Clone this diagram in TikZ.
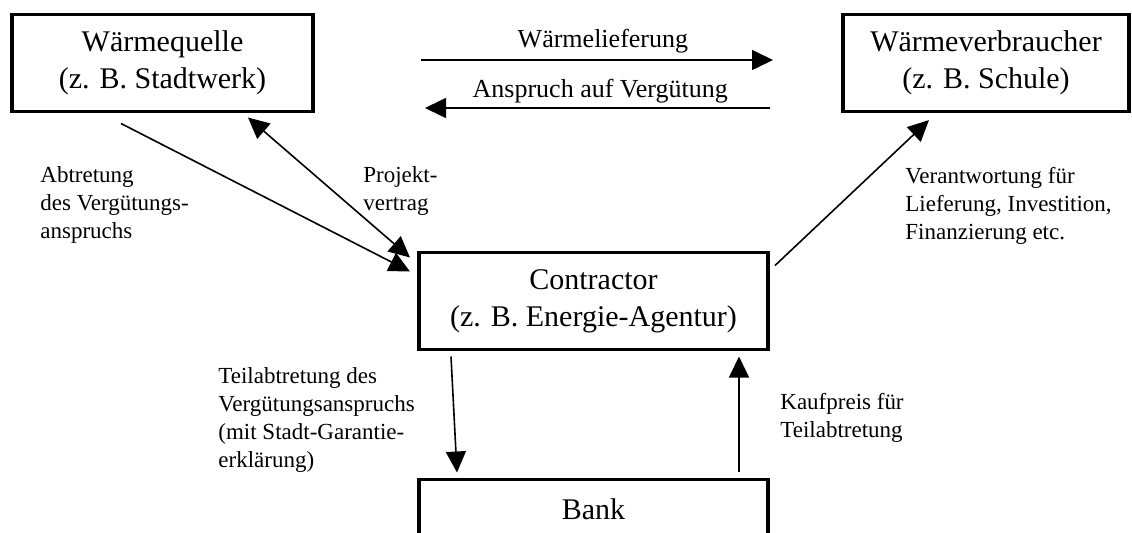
\documentclass[tikz,border=0pt]{standalone}
\usepackage{fontspec}
\setmainfont{Liberation Serif}
\usetikzlibrary{arrows.meta,positioning}
\tikzstyle{box} = [draw, rectangle, line width=1.6pt, inner sep=0pt, outer sep=0pt, align=center, minimum height=48.5pt, font=\fontsize{15}{18.5}\selectfont]
\tikzstyle{note} = [inner sep=0pt, anchor=north west, align=left, font=\fontsize{11.5}{14}\selectfont]
\tikzstyle{flow} = [above, inner sep=2pt, font=\fontsize{13}{15}\selectfont]
\tikzstyle{line} = [draw, line width=0.8pt, ->]
\tikzstyle{dline} = [line, <->]

\begin{document}
\begin{tikzpicture}[>={Triangle[length=10.5pt, width=10pt]}]
	\useasboundingbox (0,0) rectangle (566pt,266pt);
	\node [box, minimum width=150.5pt] at (81.25pt,234.5pt) (quelle) {Wärmequelle\\(z. B. Stadtwerk)};
	\node [box, minimum width=143pt, right=265pt of quelle] (verbr) {Wärmeverbraucher\\(z. B. Schule)};
	\node [box, minimum width=174.5pt, below right=70.5pt and 53pt of quelle] (contr) {Contractor\\(z. B. Energie-Agentur)};
	\node [box, minimum width=174.5pt, minimum height=30pt, below=65pt of contr] (bank) {Bank};

	\node [note] at (20pt,183pt) (abtr) {Abtretung\\des Vergütungs-\\anspruchs};
	\node [note] at (181.5pt,183pt) (proj) {Projekt-\\vertrag};
	\node [note] at (452.5pt,182.5pt) (verant) {Verantwortung für\\Lieferung, Investition,\\Finanzierung etc.};
	\node [note] at (109pt,82.5pt) (teil) {Teilabtretung des\\Vergütungsanspruchs\\(mit Stadt-Garantie-\\erklärung)};
	\node [note] at (390pt,69.5pt) (kauf) {Kaufpreis für\\Teilabtretung};

	\path [line, shorten <=54pt, shorten >=35pt] ([yshift=1.5pt]quelle.east) -- node[flow, pos=0.547, yshift=1pt](liefer){Wärmelieferung} ([yshift=1.5pt]verbr.west);
	\path [line, shorten <=36.5pt, shorten >=56pt] ([yshift=-22.5pt]verbr.west) -- node[flow, pos=0.458](anspr){Anspruch auf Vergütung} ([yshift=-22.5pt]quelle.east);
	\path [line] ([xshift=-20.75pt,yshift=-6pt]quelle.south) -- ([xshift=-4.5pt,yshift=-9.5pt]contr.north west);
	\path [dline] ([xshift=-4.5pt,yshift=-2.5pt]contr.north west) -- ([xshift=-32.5pt,yshift=-3pt]quelle.south east);
	\path [line] ([xshift=3.5pt,yshift=-6.5pt]contr.north east) -- ([xshift=43pt,yshift=-4.3pt]verbr.south west);
	\path [line] ([xshift=16pt,yshift=-3.5pt]contr.south west) -- ([xshift=19pt,yshift=3.5pt]bank.north west);
	\path [line] ([xshift=-14.5pt,yshift=4pt]bank.north east) -- ([xshift=-14.5pt,yshift=-3.5pt]contr.south east);
\end{tikzpicture}
\end{document}
